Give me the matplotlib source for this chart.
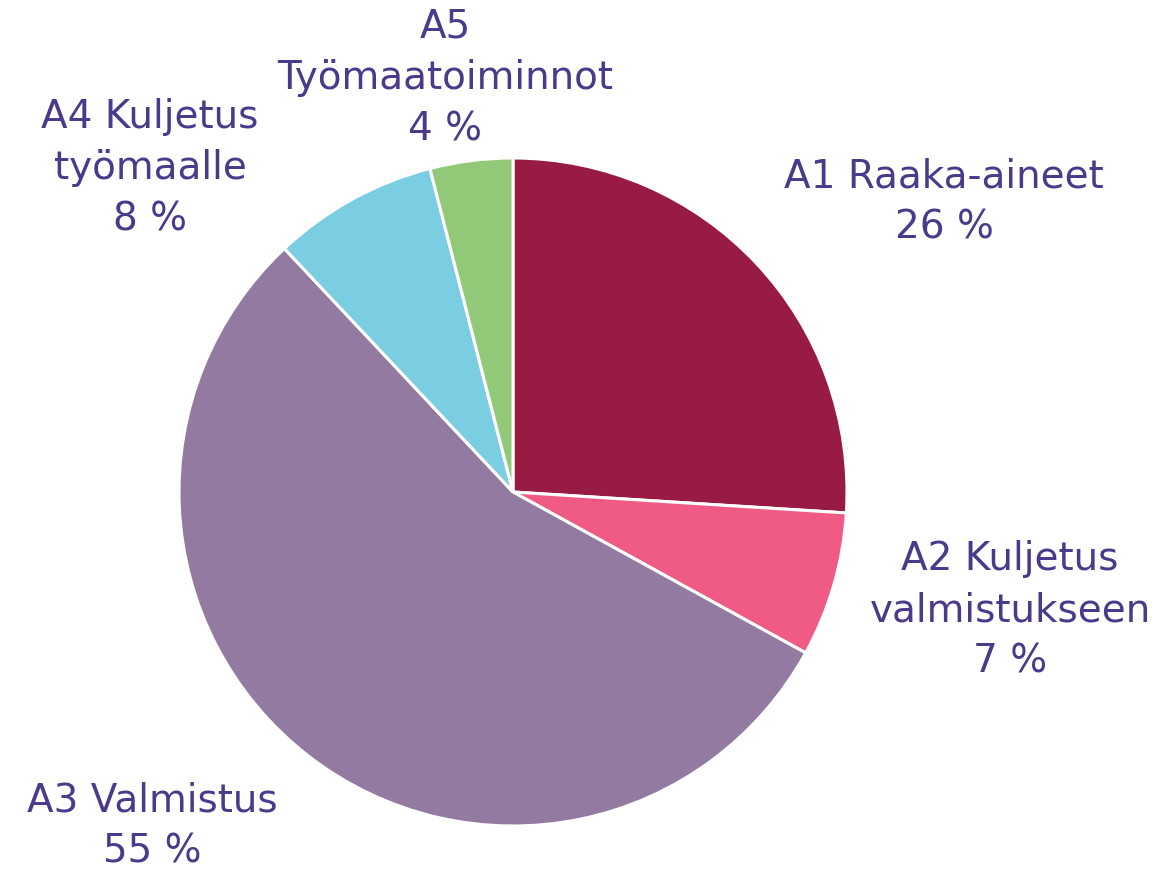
import matplotlib
matplotlib.use("Agg")
import matplotlib.pyplot as plt

labels = ["A1 Raaka-aineet\n26 %", "A2 Kuljetus\nvalmistukseen\n7 %", "A3 Valmistus\n55 %",
          "A4 Kuljetus\ntyömaalle\n8 %", "A5\nTyömaatoiminnot\n4 %"]
values = [26, 7, 55, 8, 4]
colors = ["#971B42", "#EF5B85", "#927AA0", "#7BCDE2", "#92C978"]
# label centre positions in pixels (x, y from top)
label_px = [(944, 202), (1010, 610), (152, 826), (150, 168), (445, 78)]

W, H = 1164, 872
cx, cy, R = 513, 492, 334

fig = plt.figure(figsize=(W / 100, H / 100), dpi=100)
ax = fig.add_axes([0, 0, 1, 1])
ax.pie(values, colors=colors, startangle=90, counterclock=False, radius=1,
       wedgeprops=dict(edgecolor="white", linewidth=2.2))
ax.set_xlim(-cx / R, (W - cx) / R)
ax.set_ylim(-(H - cy) / R, cy / R)
ax.set_aspect("equal")
ax.axis("off")

for lab, (px, py) in zip(labels, label_px):
    ax.text((px - cx) / R, (cy - py) / R, lab, ha="center", va="center",
            fontsize=28, color="#4B3A8B", linespacing=1.45, family="DejaVu Sans")

fig.savefig("out.png", dpi=100)
